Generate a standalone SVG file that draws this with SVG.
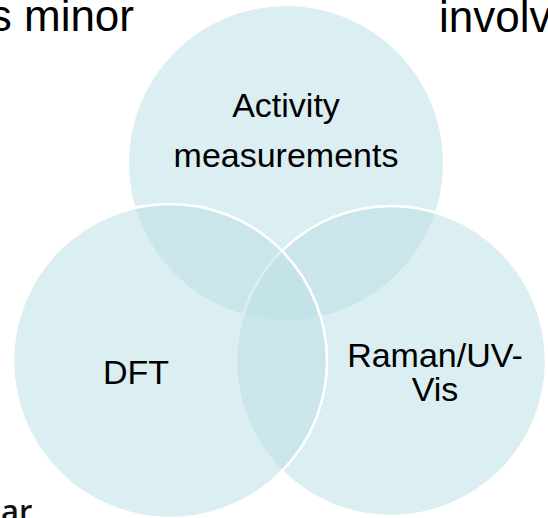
<svg xmlns="http://www.w3.org/2000/svg" width="548" height="518" viewBox="0 0 548 518">
<style>
.c{fill:#BDE0E5;fill-opacity:0.55}
.s{stroke:#FFFFFF;stroke-width:2.5}
.t{font-family:"Liberation Sans",Arial,sans-serif;font-size:34px;fill:#000000;text-anchor:middle}
.bg{font-family:"Liberation Sans",Arial,sans-serif;font-size:44px;fill:#000000}
</style>
<rect width="548" height="518" fill="#FFFFFF"/>
<g id="background-text">
<text class="bg" x="134" y="31" text-anchor="end">s minor</text>
<text class="bg" x="439" y="32">involv</text>
<text x="1" y="522" style="font-family:'Open Sans','Noto Sans',sans-serif;font-size:31px;font-weight:600;fill:#111111">ar</text>
</g>
<g id="node-activity">
<circle class="c" cx="286" cy="163" r="157"/>
<text class="t" x="286" y="117">Activity</text>
<text class="t" x="286" y="167">measurements</text>
</g>
<g id="node-raman">
<circle class="c s" cx="391" cy="361" r="155"/>
<text class="t" x="435" y="367">Raman/UV-</text>
<text class="t" x="435" y="401">Vis</text>
</g>
<g id="node-dft">
<circle class="c s" cx="170" cy="361" r="157"/>
<text class="t" x="136" y="384">DFT</text>
</g>
</svg>
